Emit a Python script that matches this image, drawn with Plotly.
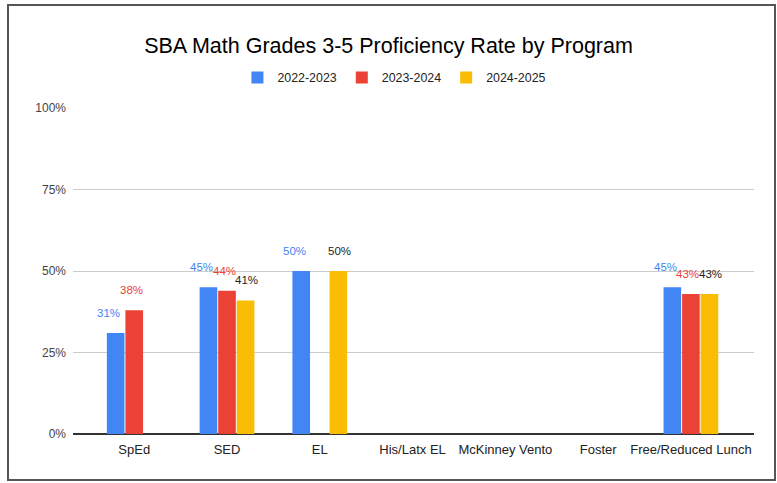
import plotly.graph_objects as go

categories = ["SpEd", "SED", "EL", "His/Latx EL", "McKinney Vento", "Foster", "Free/Reduced Lunch"]
series_names = ["2022-2023", "2023-2024", "2024-2025"]
values_2223 = [0.31, 0.45, 0.50, None, None, None, 0.45]
values_2324 = [0.38, 0.44, None, None, None, None, 0.43]
values_2425 = [None, 0.41, 0.50, None, None, None, 0.43]
bar_colors = ["#4285F4", "#EA4335", "#FBBC04"]
label_colors = ["#4285F4", "#EA4335", "#222222"]
y_ticks = [0, 0.25, 0.5, 0.75, 1.0]
y_tick_labels = ["0%", "25%", "50%", "75%", "100%"]

W, H = 777, 483
L, R, T, B = 73, 23, 108, 49
X_RANGE = [-0.66, 6.68]
BARGAP = 0.4

pw = W - L - R
ph = H - T - B
unit_px = pw / (X_RANGE[1] - X_RANGE[0])
slot_px = unit_px * (1 - BARGAP) / len(series_names)

fig = go.Figure()
all_series = [values_2223, values_2324, values_2425]
for i, (name, vals, col) in enumerate(zip(series_names, all_series, bar_colors)):
    fig.add_trace(go.Bar(
        x=categories, y=vals, name=name,
        marker=dict(color=col, line=dict(width=0)),
        hoverinfo="x+y",
    ))

# value labels above bars (Google-chart style, raised above the bar top, spread slightly)
for i, (vals, lcol) in enumerate(zip(all_series, label_colors)):
    offset = (i - (len(series_names) - 1) / 2) * slot_px * 1.2 - 3
    for cat, v in zip(categories, vals):
        if v is None:
            continue
        fig.add_annotation(x=cat, y=v, xref="x", yref="y",
                           text=f"{round(v*100)}%", showarrow=False,
                           xshift=offset, yshift=20, yanchor="middle",
                           font=dict(size=11.5, color=lcol, family="Liberation Sans, Arial"))

fig.add_shape(type="rect", xref="paper", yref="paper",
              x0=(8 - L) / pw, x1=(775 - L) / pw,
              y0=(T + ph - 480) / ph, y1=(T + ph - 5) / ph,
              line=dict(color="#555555", width=2), layer="above")

fig.update_layout(
    width=W, height=H,
    margin=dict(l=L, r=R, t=T, b=B),
    paper_bgcolor="white", plot_bgcolor="white",
    font=dict(family="Liberation Sans, Arial", color="#222222"),
    title=dict(text="SBA Math Grades 3-5 Proficiency Rate by Program",
               x=0.5, xanchor="center", y=1 - 45 / H, yanchor="middle",
               font=dict(size=21.5, color="#000000")),
    legend=dict(orientation="h", x=0.472, xanchor="center", y=(T + ph - 78) / ph, yanchor="middle",
                font=dict(size=12.4, color="#222222"),
                traceorder="normal", itemclick=False),
    barmode="group", bargap=BARGAP, bargroupgap=0.05,
    xaxis=dict(range=X_RANGE, showgrid=False, showline=False,
               tickfont=dict(size=13, color="#222222"), ticks="", ticklabelstandoff=6),
    yaxis=dict(range=[0, 1.0005], tickvals=y_ticks, ticktext=y_tick_labels,
               showgrid=True, gridcolor="#cccccc", gridwidth=1,
               zeroline=True, zerolinecolor="#333333", zerolinewidth=1.5,
               tickfont=dict(size=12, color="#444444"), ticks="", ticklabelstandoff=6),
)

fig.write_html("out.html", config={"displayModeBar": False},
               post_script="document.body.style.margin='0';")
